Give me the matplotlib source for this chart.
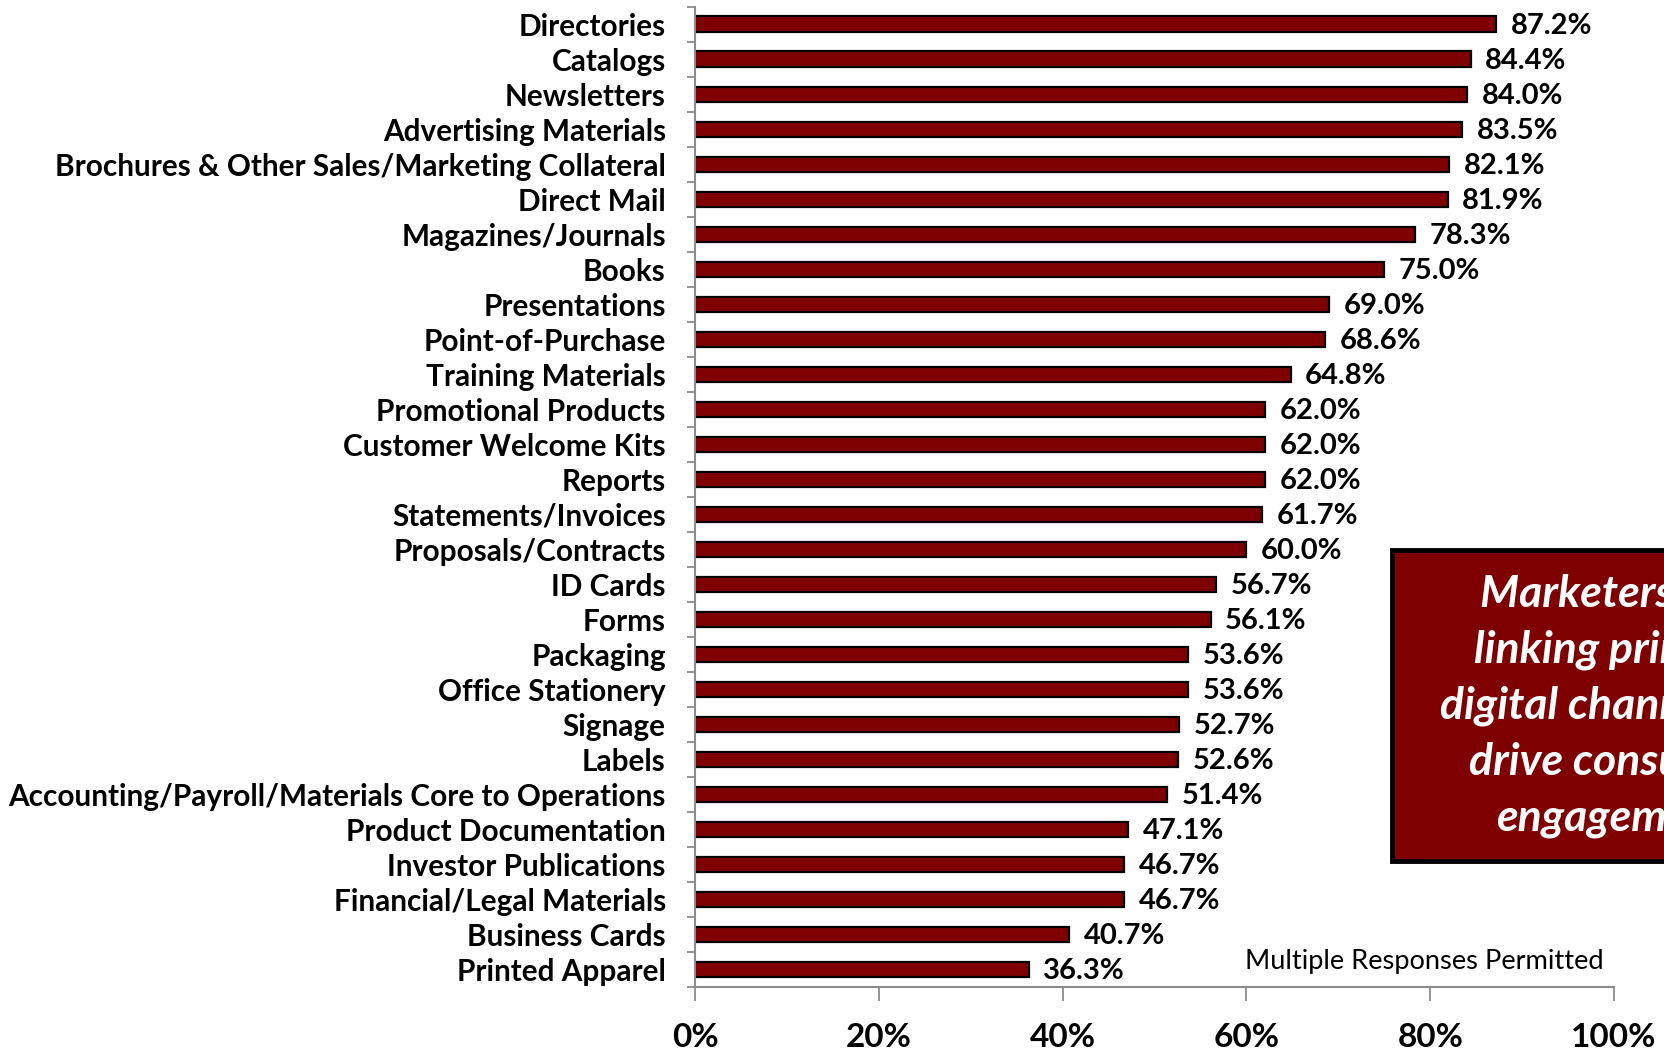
import matplotlib
matplotlib.use("Agg")
import matplotlib.pyplot as plt
from matplotlib.patches import Rectangle
import numpy as np

categories = [
    "Directories", "Catalogs", "Newsletters", "Advertising Materials",
    "Brochures & Other Sales/Marketing Collateral", "Direct Mail",
    "Magazines/Journals", "Books", "Presentations", "Point-of-Purchase",
    "Training Materials", "Promotional Products", "Customer Welcome Kits",
    "Reports", "Statements/Invoices", "Proposals/Contracts", "ID Cards",
    "Forms", "Packaging", "Office Stationery", "Signage", "Labels",
    "Accounting/Payroll/Materials Core to Operations", "Product Documentation",
    "Investor Publications", "Financial/Legal Materials", "Business Cards",
    "Printed Apparel",
]
values = [
    87.2, 84.4, 84.0, 83.5, 82.1, 81.9, 78.3, 75.0, 69.0, 68.6,
    64.8, 62.0, 62.0, 62.0, 61.7, 60.0, 56.7, 56.1, 53.6, 53.6,
    52.7, 52.6, 51.4, 47.1, 46.7, 46.7, 40.7, 36.3,
]
x_ticks = [0, 20, 40, 60, 80, 100]
x_tick_labels = ["0%", "20%", "40%", "60%", "80%", "100%"]
note = "Multiple Responses Permitted"
callout_lines = ["Marketers are", "linking print to", "digital channels to",
                 "drive consumer", "engagement"]

plt.rcParams["font.family"] = ["Lato", "DejaVu Sans"]

W, H = 1664, 1050
fig = plt.figure(figsize=(W / 100, H / 100), dpi=100)
ax = fig.add_axes([695 / W, 1 - 987 / H, (1614 - 695) / W, (987 - 6.5) / H])

bar_red = "#7F0000"
axis_gray = "#8C8C8C"

y = np.arange(len(categories))
ax.barh(y, values, height=0.43, color=bar_red, edgecolor="black", linewidth=1.6)

for yi, v in zip(y, values):
    ax.text(v + 1.6, yi + 0.05, f"{v:.1f}%", va="center", ha="left",
            fontsize=21, fontweight="bold", color="black")

ax.set_xlim(0, 100)
ax.set_ylim(len(categories) - 0.5, -0.5)

ax.set_yticks(y)
ax.set_yticklabels(categories, fontsize=21.4, fontweight="bold")
ax.set_yticks(np.arange(-0.5, len(categories) + 0.5, 1), minor=True)
ax.tick_params(axis="y", which="major", length=0, pad=21)
ax.tick_params(axis="y", which="minor", length=6, width=1.3, color=axis_gray)

ax.set_xticks(x_ticks)
ax.set_xticklabels(x_tick_labels, fontsize=24, fontweight="bold")
ax.tick_params(axis="x", which="major", length=10, width=1.3, color=axis_gray, pad=16)

for side in ("top", "right"):
    ax.spines[side].set_visible(False)
for side in ("left", "bottom"):
    ax.spines[side].set_color(axis_gray)
    ax.spines[side].set_linewidth(1.5)

fig.text(1604 / W, 1 - 962 / H, note, ha="right", va="center", fontsize=19.6,
         color="black")

# Callout box running off the right edge
box = Rectangle((1392 / W, 1 - 861 / H), 400 / W, (861 - 550) / H,
                transform=fig.transFigure, facecolor=bar_red, edgecolor="black",
                linewidth=3.5, clip_on=False)
fig.patches.append(box)
fig.text(1612 / W, 1 - 706 / H, "\n".join(callout_lines), ha="center",
         va="center", fontsize=32, fontweight="bold", fontstyle="italic",
         color="white", linespacing=1.47)

fig.savefig("out.png", dpi=100)
